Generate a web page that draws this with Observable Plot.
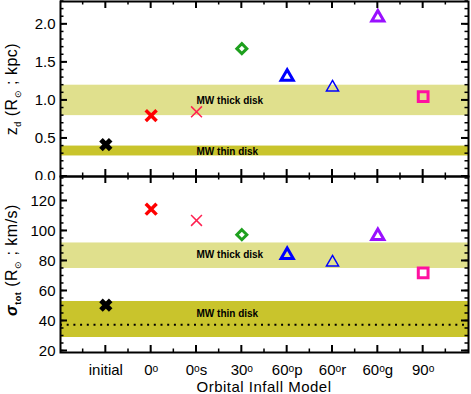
<!DOCTYPE html>
<html><head><meta charset="utf-8">
<script src="https://cdn.jsdelivr.net/npm/d3@7"></script>
<script src="https://cdn.jsdelivr.net/npm/@observablehq/plot@0.6"></script>
<style>
body{margin:0;background:#fff;}
#chart{position:relative;width:471px;height:394px;}
#chart > svg{position:absolute;left:0;}
</style></head><body><div id="chart"></div>
<script>
// ---- data ----
const models = ["initial", "0ᵒ", "0ᵒs", "30ᵒ", "60ᵒp", "60ᵒr", "60ᵒg", "90ᵒ"];
const zd = [0.42, 0.80, 0.85, 1.68, 1.31, 1.17, 2.09, 1.05];
const sigma = [50.5, 114.5, 107, 97.5, 84, 79, 96.7, 72];
const colors = ["#000000", "#ff0000", "#ff2050", "#1ea01e", "#0000ff", "#0000ff", "#9a10ff", "#ff10a0"];
const symbols = ["times", "times", "times", "diamond2", "triangle", "triangle", "triangle", "square"];
const strokeWidths = [5, 3.5, 1.5, 3, 3, 1.5, 3, 3];
const radii = [4.5, 5, 5, 4.5, 4.5, 4.5, 4.5, 5.5];
const zdThick = [0.8, 1.2];
const zdThin = [0.27, 0.40];
const sigmaThick = [75, 92];
const sigmaThin = [29, 53];
const sigmaLine = 37.5;
const bandLabels = ["MW thick disk", "MW thin disk"];
const zdLabelY = [1.0, 0.32];
const sigmaLabelY = [84, 45];
const zdTicks = [0, 0.5, 1.0, 1.5, 2.0];
const sigmaTicks = [20, 40, 60, 80, 100, 120];

const rows = models.map((m, i) => ({i, m, zd: zd[i], sigma: sigma[i], color: colors[i], symbol: symbols[i], sw: strokeWidths[i], r: radii[i]}));
const FONT = "Liberation Sans, Arial, sans-serif";
const THICK = "#e0e08d", THIN = "#c9c42c";
const W = 471, ML = 60, MR = 3, FW = W - ML - MR;
const XD = [-1, 8];
const PXX = FW / (XD[1] - XD[0]);

// tick marks as thin filled rectangles along all four edges
function tickRects(vals, len, th, yd, FH) {
  const pxY = FH / (yd[1] - yd[0]);
  const hy = th / 2 / pxY, hx = th / 2 / PXX;
  const o = {fill: "black"};
  return [
    Plot.rect(vals.y, {x1: () => XD[0], x2: () => XD[0] + len / PXX, y1: d => d - hy, y2: d => d + hy, ...o}),
    Plot.rect(vals.y, {x1: () => XD[1] - len / PXX, x2: () => XD[1], y1: d => d - hy, y2: d => d + hy, ...o}),
    Plot.rect(vals.x, {y1: () => yd[0], y2: () => yd[0] + len / pxY, x1: d => d - hx, x2: d => d + hx, ...o}),
    Plot.rect(vals.x, {y1: () => yd[1] - len / pxY, y2: () => yd[1], x1: d => d - hx, x2: d => d + hx, ...o})
  ];
}
function allTicks(major, minor, fmt, yd, FH) {
  return [
    ...tickRects({y: major, x: d3.range(0, 8)}, 7, 2, yd, FH),
    ...tickRects({y: minor, x: d3.range(-0.5, 8, 1)}, 3.5, 1.5, yd, FH),
    Plot.axisY(major, {anchor: "left", tickSize: 0, tickPadding: 5, tickFormat: fmt, fontSize: 15, label: null})
  ];
}
function band(lo, hi, fill) {
  return Plot.rectY([{lo, hi}], {y1: "lo", y2: "hi", x1: XD[0], x2: XD[1], fill});
}
function dots(key) {
  const under = Plot.dot(rows.filter(r => r.i === 0), {x: "i", y: key, symbol: "square", r: 3.2, fill: "black"});
  return [under, ...rows.map(r => Plot.dot([r], {x: "i", y: key, symbol: r.symbol, stroke: r.color, strokeWidth: r.sw, r: r.r, fill: "none"}))];
}
function labels(ys) {
  return Plot.text(bandLabels.map((t, k) => ({t, y: ys[k]})), {x: 2, y: "y", text: "t", textAnchor: "start", fontSize: 10, fontWeight: "bold", fill: "black", style: "letter-spacing:0.6px"});
}

const common = {width: W, marginLeft: ML, marginRight: MR, style: {fontFamily: FONT, background: "transparent"}};
const YD1 = [0, 2.3], YD2 = [19, 136.3];

const p1 = Plot.plot({
  ...common, height: 180, marginTop: 1, marginBottom: 4,
  x: {domain: XD, axis: null},
  y: {domain: YD1},
  marks: [
    band(zdThick[0], zdThick[1], THICK),
    band(zdThin[0], zdThin[1], THIN),
    labels(zdLabelY),
    ...dots("zd"),
    ...allTicks(zdTicks, d3.range(0, 2.31, 0.1).map(v => +v.toFixed(1)), d3.format(".1f"), YD1, 175),
    Plot.frame({stroke: "black", strokeWidth: 2})
  ]
});

const p2 = Plot.plot({
  ...common, height: 222, marginTop: 4, marginBottom: 42,
  x: {domain: XD},
  y: {domain: YD2},
  marks: [
    band(sigmaThick[0], sigmaThick[1], THICK),
    band(sigmaThin[0], sigmaThin[1], THIN),
    Plot.ruleY([sigmaLine], {x1: XD[0], x2: XD[1], stroke: "black", strokeWidth: 2, strokeDasharray: "2,4.7"}),
    labels(sigmaLabelY),
    ...dots("sigma"),
    ...allTicks(sigmaTicks, d3.range(20, 136, 5), d3.format("d"), YD2, 176),
    Plot.axisX(d3.range(0, 8), {anchor: "bottom", tickSize: 0, tickPadding: 12, tickFormat: i => models[i], fontSize: 15, label: null}),
    Plot.frame({stroke: "black", strokeWidth: 2})
  ]
});

const chart = document.getElementById("chart");
p1.style.top = "0px";
p2.style.top = "172px";
chart.appendChild(p2);
chart.appendChild(p1);

function yTitle(svg, cy, main, sub, rest) {
  const t = d3.select(svg).append("text")
    .attr("transform", `translate(17,${cy}) rotate(-90)`)
    .attr("text-anchor", "middle").attr("font-size", 16).attr("font-family", FONT).attr("fill", "black")
    .style("letter-spacing", "0.5px");
  t.append("tspan").attr("font-weight", main === "σ" ? "bold" : null).attr("font-style", main === "σ" ? "italic" : null).text(main);
  t.append("tspan").attr("font-size", 9).attr("dy", 4).attr("font-weight", main === "σ" ? "bold" : null).text(sub);
  t.append("tspan").attr("dy", -4).text(" (R");
  t.append("tspan").attr("font-size", 9).attr("dy", 4).text("⊙");
  t.append("tspan").attr("dy", -4).text(" ; " + rest + ")");
}
yTitle(p1, 89, "z", "d", "kpc");
yTitle(p2, 88, "σ", "tot", "km/s");
d3.select(p2).append("text").attr("x", 264).attr("y", 220).attr("text-anchor", "middle")
  .attr("font-size", 15).attr("font-family", FONT).attr("fill", "black").style("letter-spacing", "0.5px").text("Orbital Infall Model");
</script></body></html>
